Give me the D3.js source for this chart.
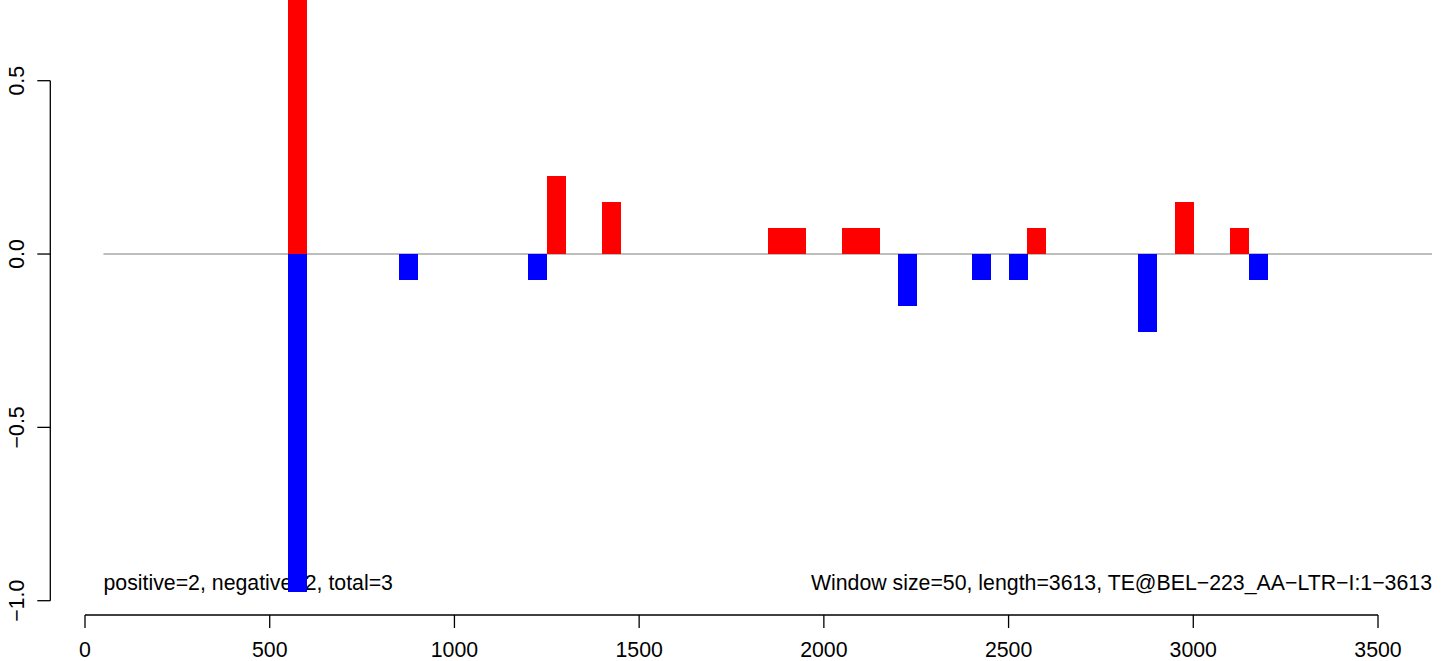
<!DOCTYPE html>
<html>
<head>
<meta charset="utf-8">
<script src="https://cdn.jsdelivr.net/npm/d3@7"></script>
<style>
  body { margin: 0; background: #fff; }
  svg text { font-family: "Liberation Sans", Arial, sans-serif; font-size: 21.3px; fill: #000; }
</style>
</head>
<body>
<svg id="chart" width="1444" height="661"></svg>
<script>
// window starts (bp) and scores, window size 50
var posStart = [550, 1250, 1400, 1850, 1900, 2050, 2100, 2550, 2950, 3100];
var posValue = [0.975, 0.225, 0.15, 0.075, 0.075, 0.075, 0.075, 0.075, 0.15, 0.075];
var negStart = [550, 850, 1200, 2200, 2400, 2500, 2850, 3150];
var negValue = [-0.975, -0.075, -0.075, -0.15, -0.075, -0.075, -0.225, -0.075];
var winSize = 50;
var xTicks = [0, 500, 1000, 1500, 2000, 2500, 3000, 3500];
var yTicks = [-1.0, -0.5, 0.0, 0.5];
var noteLeft = "positive=2, negative=2, total=3";
var noteRight = "Window size=50, length=3613, TE@BEL\u2212223_AA\u2212LTR\u2212I:1\u22123613";

var svg = d3.select("#chart");

var x = d3.scaleLinear().domain([0, 3500]).range([85, 1378]);
var y = d3.scaleLinear().domain([-1, 0.5]).range([600.7, 80.7]);

// zero line
svg.append("line")
  .attr("x1", x(50)).attr("x2", x(3646))
  .attr("y1", y(0)).attr("y2", y(0))
  .attr("stroke", "#a9a9a9").attr("stroke-width", 1.5);

function bars(starts, vals, colour) {
  var data = starts.map(function(s, i) { return {s: s, v: vals[i]}; });
  svg.append("g").attr("shape-rendering", "crispEdges")
    .selectAll("rect")
    .data(data).enter().append("rect")
    .attr("x", function(d) { return x(d.s); })
    .attr("width", function(d) { return x(d.s + winSize) - x(d.s) + 0.5; })
    .attr("y", function(d) { return Math.min(y(d.v), y(0)); })
    .attr("height", function(d) { return Math.abs(y(d.v) - y(0)); })
    .attr("fill", colour);
}

// notes first, bars are painted on top of them
svg.append("text")
  .attr("x", x(50)).attr("y", 590)
  .text(noteLeft);
svg.append("text")
  .attr("x", 1432).attr("y", 590)
  .attr("text-anchor", "end")
  .text(noteRight);

bars(posStart, posValue, "#ff0000");
bars(negStart, negValue, "#0000ff");

// x axis
var xa = svg.append("g");
xa.append("line")
  .attr("x1", x(0)).attr("x2", x(3500))
  .attr("y1", 615).attr("y2", 615)
  .attr("stroke", "#000").attr("stroke-width", 1.3);
xa.selectAll(".xt").data(xTicks).enter().append("line")
  .attr("x1", function(d) { return x(d); }).attr("x2", function(d) { return x(d); })
  .attr("y1", 615).attr("y2", 628)
  .attr("stroke", "#000").attr("stroke-width", 1.3);
xa.selectAll(".xl").data(xTicks).enter().append("text")
  .attr("x", function(d) { return x(d); })
  .attr("y", 657)
  .attr("text-anchor", "middle")
  .text(function(d) { return d; });

// y axis
var ya = svg.append("g");
ya.append("line")
  .attr("x1", 50.3).attr("x2", 50.3)
  .attr("y1", y(-1)).attr("y2", y(0.5))
  .attr("stroke", "#000").attr("stroke-width", 1.3);
ya.selectAll(".yt").data(yTicks).enter().append("line")
  .attr("x1", 37.3).attr("x2", 50.3)
  .attr("y1", function(d) { return y(d); }).attr("y2", function(d) { return y(d); })
  .attr("stroke", "#000").attr("stroke-width", 1.3);
ya.selectAll(".yl").data(yTicks).enter().append("text")
  .attr("transform", function(d) { return "translate(24," + y(d) + ") rotate(-90)"; })
  .attr("text-anchor", "middle")
  .text(function(d) { return d3.format(".1f")(d).replace("-", "\u2212"); });
</script>
</body>
</html>
